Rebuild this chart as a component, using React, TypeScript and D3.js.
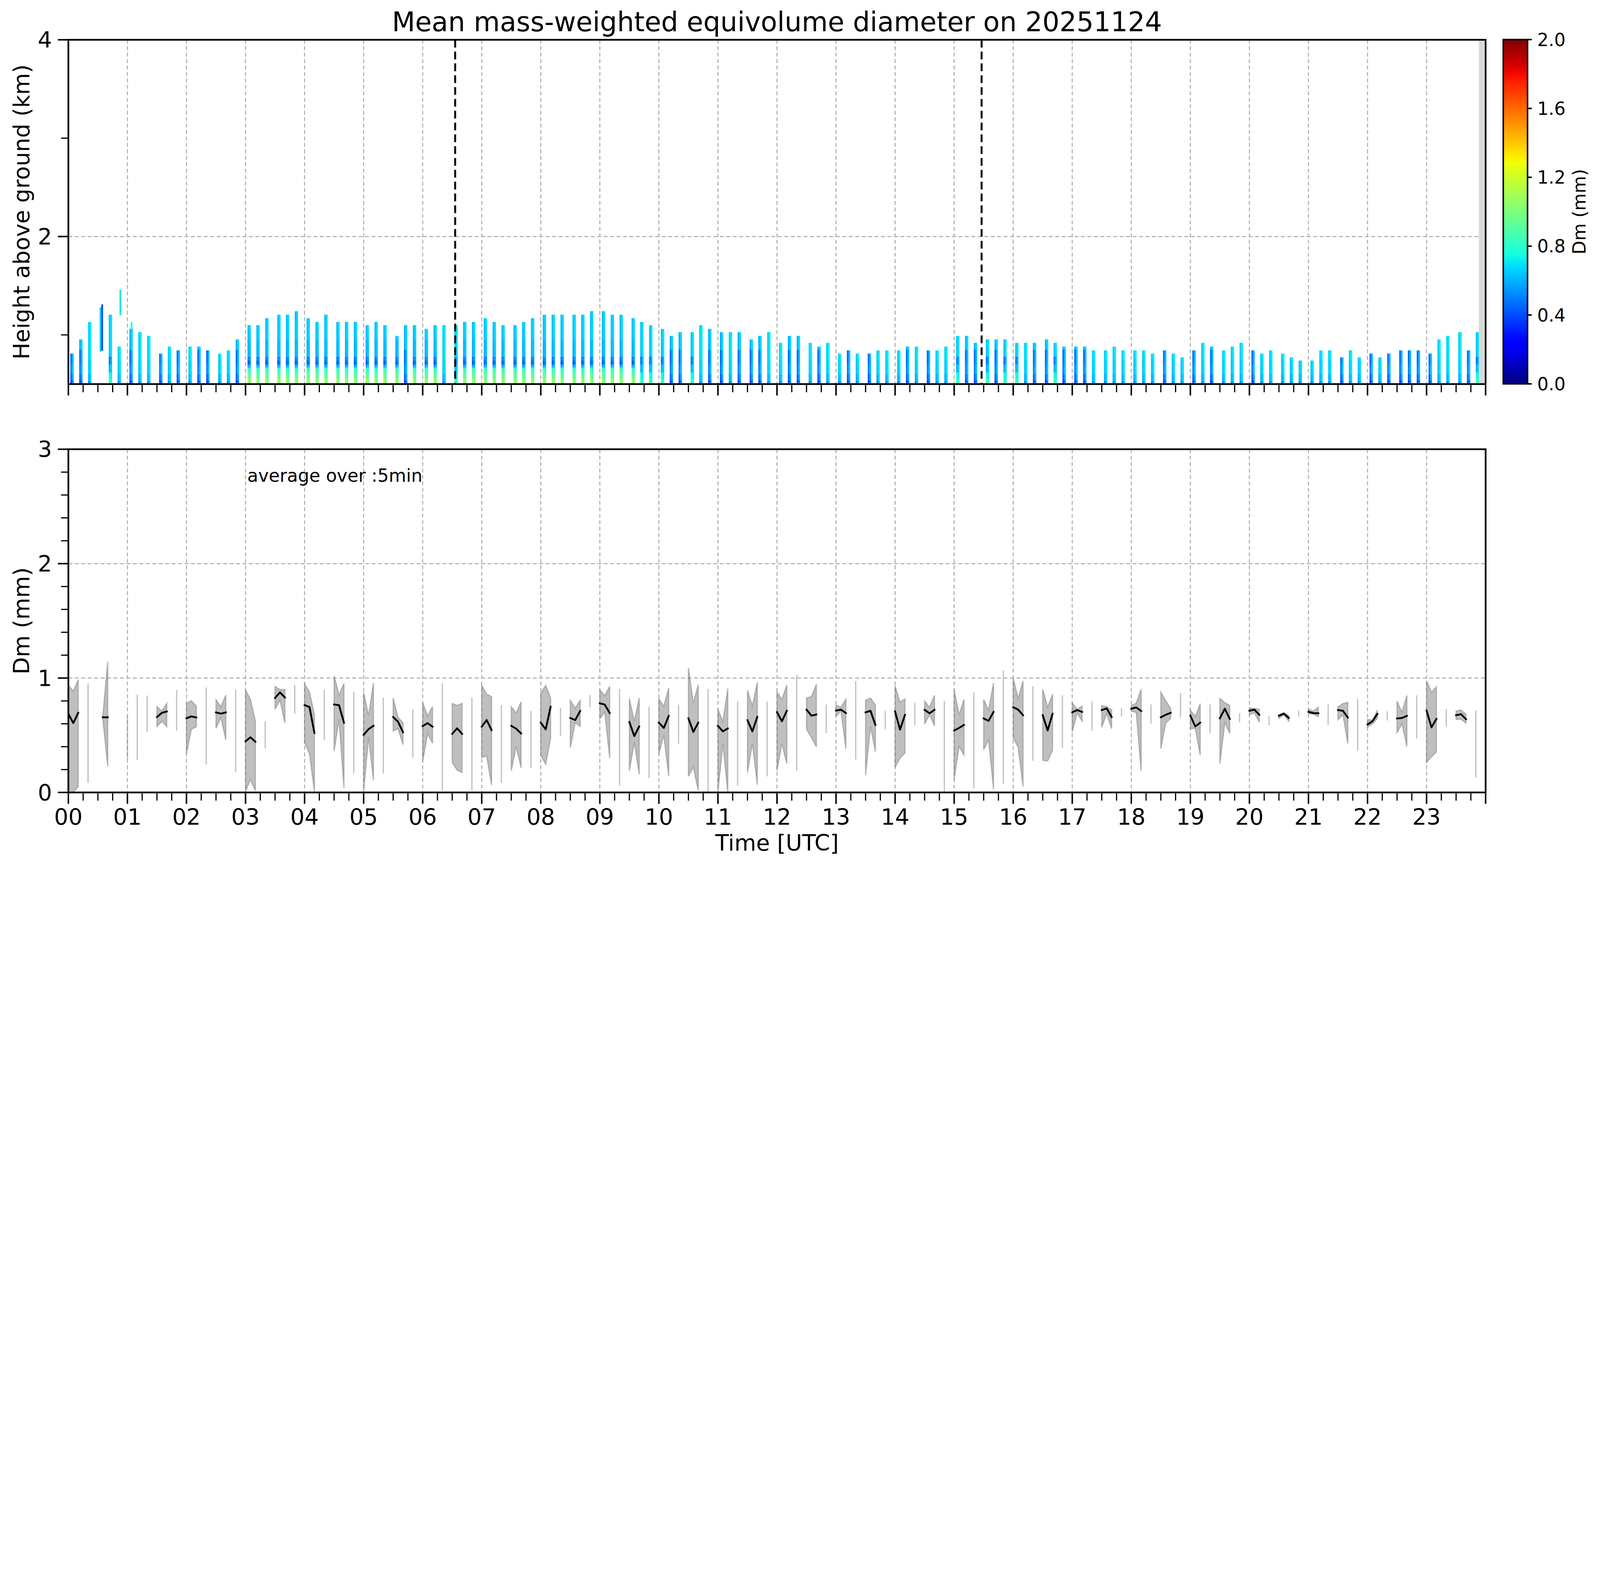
import React from 'react';
import * as d3 from 'd3';

const W = 7442;
const H = 4031;
const FONT = 'DejaVu Sans, Verdana, sans-serif';

// ---------- top panel: profile columns (Dm, mm) ----------
// scan start minutes inside each hour, and scan duration
const scanSlotMin = [2, 11, 20, 32.2, 41, 50];
const scanDurMin = 3.3;

// column tops (km) per hour, one value per scan slot (0 = no regular column)
const colTops: number[][] = [
  [0.81, 0.954, 1.132, 0, 1.205, 0.881],
  [1.061, 1.028, 0.99, 0.81, 0.881, 0.843],
  [0.881, 0.881, 0.843, 0.81, 0.843, 0.954],
  [1.099, 1.099, 1.17, 1.205, 1.205, 1.241],
  [1.17, 1.132, 1.205, 1.132, 1.132, 1.132],
  [1.099, 1.132, 1.099, 0.99, 1.099, 1.099],
  [1.061, 1.099, 1.099, 1.099, 1.132, 1.132],
  [1.17, 1.132, 1.099, 1.099, 1.132, 1.17],
  [1.205, 1.205, 1.205, 1.205, 1.205, 1.241],
  [1.241, 1.205, 1.205, 1.17, 1.132, 1.099],
  [1.061, 0.99, 1.028, 1.028, 1.099, 1.061],
  [1.028, 1.028, 1.028, 0.954, 0.99, 1.028],
  [0.919, 0.99, 0.99, 0.919, 0.881, 0.919],
  [0.81, 0.843, 0.81, 0.81, 0.843, 0.843],
  [0.843, 0.881, 0.881, 0.843, 0.843, 0.881],
  [0.99, 0.99, 0.919, 0.954, 0.954, 0.954],
  [0.919, 0.919, 0.919, 0.954, 0.919, 0.881],
  [0.881, 0.881, 0.843, 0.843, 0.881, 0.843],
  [0.843, 0.843, 0.81, 0.843, 0.81, 0.772],
  [0.843, 0.919, 0.881, 0.843, 0.881, 0.919],
  [0.843, 0.81, 0.843, 0.81, 0.772, 0.739],
  [0.739, 0.843, 0.843, 0.772, 0.843, 0.772],
  [0.81, 0.772, 0.81, 0.843, 0.843, 0.843],
  [0.81, 0.954, 0.99, 1.028, 0.843, 1.028],
];

// profile type of each column (g: large drops near ground, b: bluish, c: cyan, m: mixed)
const colProfile = [
  'bbcbmc', 'bccbcb', 'cbbccb', 'gggggg', 'gggggg', 'ggggbg',
  'ggcmgg', 'gggggg', 'gggggg', 'ggggmm', 'mbbmcb', 'bcbbbc',
  'cbbcbc', 'cbcbcc', 'cbcbcc', 'mbbmbm', 'mcbbmb', 'bbcccc',
  'cccbcc', 'bcbccc', 'bccccc', 'cccbcc', 'bcbbbb', 'bcccbm',
];

// bands: [upper height km, Dm first half, Dm second half]
const profileBands: Record<string, number[][]> = {
  g: [[0.555, 1.1, 1.0], [0.63, 0.95, 0.9], [0.67, 0.82, 0.78], [0.7, 0.58, 0.62], [0.74, 0.42, 0.5], [0.78, 0.5, 0.56], [0.95, 0.6, 0.64], [9, 0.63, 0.68]],
  c: [[0.53, 0.5, 0.6], [0.6, 0.6, 0.66], [0.75, 0.64, 0.7], [9, 0.66, 0.72]],
  b: [[0.54, 0.38, 0.5], [0.6, 0.44, 0.58], [0.7, 0.5, 0.64], [0.85, 0.46, 0.62], [9, 0.6, 0.68]],
  m: [[0.55, 0.85, 0.8], [0.62, 0.78, 0.72], [0.7, 0.6, 0.66], [0.78, 0.48, 0.6], [9, 0.64, 0.7]],
};

// detached echoes: [start h, end h, bottom km, top km, Dm]
const floatCells = [
  [0.53, 0.557, 0.83, 1.28, 0.65],
  [0.557, 0.585, 0.84, 1.31, 0.4],
  [0.866, 0.893, 1.2, 1.46, 0.7],
  [1.056, 1.083, 1.06, 1.13, 0.75],
];

const eventHours = [6.55, 15.465];
const noDataFrom = 23.885;

// ---------- bottom panel: 5-min Dm at ground ----------
const dmTime = [
  '00:00', '00:05', '00:10', '00:20', '00:35', '00:40',
  '01:00', '01:10', '01:20', '01:30', '01:35', '01:40', '01:50',
  '02:00', '02:05', '02:10', '02:20', '02:30', '02:35', '02:40', '02:50',
  '03:00', '03:05', '03:10', '03:20', '03:30', '03:35', '03:40', '03:50',
  '04:00', '04:05', '04:10', '04:20', '04:30', '04:35', '04:40', '04:50',
  '05:00', '05:05', '05:10', '05:20', '05:30', '05:35', '05:40', '05:50',
  '06:00', '06:05', '06:10', '06:20', '06:30', '06:35', '06:40', '06:50',
  '07:00', '07:05', '07:10', '07:20', '07:30', '07:35', '07:40', '07:50',
  '08:00', '08:05', '08:10', '08:20', '08:30', '08:35', '08:40', '08:50',
  '09:00', '09:05', '09:10', '09:20', '09:30', '09:35', '09:40', '09:50',
  '10:00', '10:05', '10:10', '10:20', '10:30', '10:35', '10:40', '10:50',
  '11:00', '11:05', '11:10', '11:20', '11:30', '11:35', '11:40', '11:50',
  '12:00', '12:05', '12:10', '12:20', '12:30', '12:35', '12:40', '12:50',
  '13:00', '13:05', '13:10', '13:20', '13:30', '13:35', '13:40', '13:50',
  '14:00', '14:05', '14:10', '14:20', '14:30', '14:35', '14:40', '14:50',
  '15:00', '15:05', '15:10', '15:20', '15:30', '15:35', '15:40', '15:50',
  '16:00', '16:05', '16:10', '16:20', '16:30', '16:35', '16:40', '16:50',
  '17:00', '17:05', '17:10', '17:20', '17:30', '17:35', '17:40', '17:50',
  '18:00', '18:05', '18:10', '18:20', '18:30', '18:35', '18:40', '18:50',
  '19:00', '19:05', '19:10', '19:20', '19:30', '19:35', '19:40', '19:50',
  '20:00', '20:05', '20:10', '20:20', '20:30', '20:35', '20:40', '20:50',
  '21:00', '21:05', '21:10', '21:20', '21:30', '21:35', '21:40', '21:50',
  '22:00', '22:05', '22:10', '22:20', '22:30', '22:35', '22:40', '22:50',
  '23:00', '23:05', '23:10', '23:20', '23:30', '23:35', '23:40', '23:50',
];
const dmMean = [
  0.688, 0.606, 0.696, 0.62, 0.657, 0.657,
  0.55, 0.6, 0.68, 0.659, 0.696, 0.708, 0.7,
  0.648, 0.665, 0.655, 0.6, 0.7, 0.689, 0.7, 0.6,
  0.447, 0.482, 0.443, 0.5, 0.826, 0.875, 0.83, 0.8,
  0.763, 0.747, 0.52, 0.7, 0.769, 0.763, 0.61, 0.6,
  0.504, 0.553, 0.583, 0.5, 0.659, 0.618, 0.526, 0.55,
  0.58, 0.606, 0.575, 0.5, 0.512, 0.561, 0.512, 0.5,
  0.575, 0.633, 0.545, 0.5, 0.582, 0.557, 0.516, 0.5,
  0.61, 0.551, 0.749, 0.62, 0.651, 0.633, 0.712, 0.8,
  0.779, 0.768, 0.694, 0.5, 0.616, 0.493, 0.577, 0.5,
  0.61, 0.564, 0.669, 0.6, 0.648, 0.529, 0.61, 0.5,
  0.582, 0.534, 0.559, 0.5, 0.632, 0.534, 0.661, 0.5,
  0.702, 0.622, 0.714, 0.6, 0.724, 0.671, 0.681, 0.65,
  0.716, 0.724, 0.694, 0.6, 0.7, 0.714, 0.59, 0.65,
  0.708, 0.549, 0.678, 0.7, 0.722, 0.692, 0.722, 0.5,
  0.541, 0.564, 0.59, 0.5, 0.647, 0.626, 0.704, 0.6,
  0.745, 0.724, 0.675, 0.6, 0.675, 0.542, 0.688, 0.6,
  0.7, 0.72, 0.704, 0.67, 0.72, 0.735, 0.659, 0.7,
  0.732, 0.743, 0.712, 0.68, 0.657, 0.679, 0.696, 0.75,
  0.671, 0.577, 0.61, 0.64, 0.648, 0.732, 0.643, 0.65,
  0.714, 0.724, 0.679, 0.63, 0.67, 0.689, 0.651, 0.69,
  0.705, 0.694, 0.692, 0.68, 0.72, 0.714, 0.655, 0.6,
  0.594, 0.622, 0.686, 0.67, 0.647, 0.651, 0.67, 0.65,
  0.716, 0.569, 0.643, 0.65, 0.675, 0.684, 0.641, 0.5,
];
const dmMin = [
  0.0, 0.005, 0.05, 0.084, 0.64, 0.227,
  0.29, 0.284, 0.531, 0.575, 0.622, 0.575, 0.539,
  0.337, 0.553, 0.573, 0.243, 0.561, 0.657, 0.458, 0.178,
  0.007, 0.113, 0.015, 0.386, 0.728, 0.806, 0.606, 0.688,
  0.435, 0.337, 0.007, 0.459, 0.361, 0.639, 0.038, 0.166,
  0.007, 0.48, 0.108, 0.166, 0.537, 0.557, 0.418, 0.304,
  0.272, 0.512, 0.431, 0.019, 0.263, 0.194, 0.174, 0.019,
  0.304, 0.319, 0.064, 0.084, 0.19, 0.402, 0.215, 0.215,
  0.325, 0.247, 0.471, 0.492, 0.39, 0.61, 0.577, 0.745,
  0.643, 0.704, 0.3, 0.06, 0.19, 0.439, 0.157, 0.125,
  0.337, 0.5, 0.141, 0.427, 0.141, 0.221, 0.015, 0.0,
  0.0, 0.427, 0.0, 0.06, 0.174, 0.427, 0.068, 0.141,
  0.19, 0.427, 0.251, 0.19, 0.553, 0.48, 0.398, 0.52,
  0.667, 0.712, 0.382, 0.288, 0.149, 0.577, 0.357, 0.553,
  0.219, 0.3, 0.345, 0.585, 0.598, 0.679, 0.582, 0.0,
  0.113, 0.402, 0.325, 0.035, 0.374, 0.459, 0.027, 0.076,
  0.48, 0.394, 0.051, 0.276, 0.28, 0.276, 0.369, 0.392,
  0.529, 0.696, 0.622, 0.539, 0.569, 0.69, 0.557, 0.663,
  0.71, 0.7, 0.186, 0.602, 0.382, 0.606, 0.647, 0.657,
  0.557, 0.561, 0.325, 0.516, 0.251, 0.61, 0.516, 0.614,
  0.679, 0.696, 0.614, 0.59, 0.647, 0.679, 0.622, 0.663,
  0.688, 0.684, 0.663, 0.59, 0.635, 0.679, 0.427, 0.365,
  0.573, 0.598, 0.647, 0.629, 0.524, 0.598, 0.402, 0.471,
  0.263, 0.312, 0.353, 0.575, 0.639, 0.639, 0.606, 0.129,
];
const dmMax = [
  0.936, 0.887, 0.985, 0.953, 0.67, 1.146,
  0.67, 0.855, 0.847, 0.751, 0.712, 0.779, 0.896,
  0.779, 0.802, 0.754, 0.918, 0.81, 0.749, 0.851, 0.896,
  0.896, 0.814, 0.626, 0.622, 0.927, 0.9, 0.9, 0.94,
  0.949, 0.879, 0.68, 0.896, 1.02, 0.851, 0.953, 0.882,
  0.875, 0.671, 0.958, 0.83, 0.826, 0.655, 0.61, 0.727,
  0.785, 0.67, 0.751, 0.953, 0.777, 0.761, 0.779, 0.83,
  0.936, 0.859, 0.838, 0.763, 0.749, 0.696, 0.792, 0.712,
  0.867, 0.936, 0.826, 0.741, 0.806, 0.737, 0.806, 0.852,
  0.896, 0.847, 0.928, 0.904, 0.822, 0.622, 0.826, 0.751,
  0.82, 0.753, 0.914, 0.768, 1.089, 0.781, 0.942, 0.904,
  0.728, 0.618, 0.909, 0.794, 0.892, 0.757, 0.963, 0.794,
  0.879, 0.814, 0.94, 1.029, 0.826, 0.838, 0.945, 0.768,
  0.763, 0.745, 0.814, 0.973, 0.806, 0.825, 0.765, 0.716,
  0.932, 0.79, 0.818, 0.785, 0.798, 0.745, 0.849, 0.8,
  0.9, 0.679, 0.814, 0.874, 0.812, 0.72, 0.957, 1.067,
  1.0, 0.822, 0.975, 0.928, 0.901, 0.745, 0.859, 0.849,
  0.781, 0.728, 0.754, 0.795, 0.759, 0.75, 0.72, 0.735,
  0.76, 0.78, 0.904, 0.769, 0.877, 0.802, 0.732, 0.869,
  0.72, 0.663, 0.777, 0.769, 0.822, 0.785, 0.761, 0.692,
  0.737, 0.735, 0.728, 0.667, 0.68, 0.697, 0.671, 0.716,
  0.728, 0.712, 0.745, 0.769, 0.749, 0.777, 0.787, 0.818,
  0.639, 0.631, 0.719, 0.71, 0.798, 0.7, 0.847, 0.849,
  0.977, 0.875, 0.924, 0.728, 0.712, 0.72, 0.684, 0.719,
];

// ---------- ticks ----------
const hourLabels = ['00', '01', '02', '03', '04', '05', '06', '07', '08', '09', '10', '11',
  '12', '13', '14', '15', '16', '17', '18', '19', '20', '21', '22', '23'];
const topMajor = [2, 4];
const topMinor = [1, 3];
const botMajor = [0, 1, 2, 3];
const cbTicks = [0, 0.4, 0.8, 1.2, 1.6, 2.0];

// matplotlib "jet"
const jr = d3.scaleLinear([0, 0.35, 0.66, 0.89, 1], [0, 0, 1, 1, 0.5]).clamp(true);
const jg = d3.scaleLinear([0, 0.125, 0.375, 0.64, 0.91, 1], [0, 0, 1, 1, 0, 0]).clamp(true);
const jb = d3.scaleLinear([0, 0.11, 0.34, 0.65, 1], [0.5, 1, 1, 0, 0]).clamp(true);
const jet = (f: number) => d3.rgb(jr(f) * 255, jg(f) * 255, jb(f) * 255).formatHex();

const toHour = (s: string) => +s.slice(0, 2) + +s.slice(3, 5) / 60;

export default function App() {
  const left = 318, right = 6910;
  const x = d3.scaleLinear([0, 24], [left, right]);
  const yT = d3.scaleLinear([0.5, 4], [1786, 185]);
  const yB = d3.scaleLinear([0, 3], [3685, 2089]);
  const dmFrac = d3.scaleLinear([0, 2], [0, 1]).clamp(true);
  const cbY = d3.scaleLinear([0, 2], [1785, 184]);
  const cbL = 6992, cbR = 7105;

  // column cells
  const cells: { x0: number; x1: number; y0: number; y1: number; dm: number }[] = [];
  colTops.forEach((tops, h) => tops.forEach((top, s) => {
    if (!top) return;
    const t0 = h + scanSlotMin[s] / 60;
    const tm = t0 + scanDurMin / 120;
    const t1 = t0 + scanDurMin / 60;
    let lo = 0.5;
    for (const band of profileBands[colProfile[h][s]]) {
      const hi = Math.min(band[0], top);
      if (hi > lo) {
        cells.push({ x0: t0, x1: tm, y0: lo, y1: hi, dm: band[1] });
        cells.push({ x0: tm, x1: t1, y0: lo, y1: hi, dm: band[2] });
      }
      lo = Math.max(lo, band[0]);
      if (lo >= top) break;
    }
  }));
  floatCells.forEach(([a, b, lo, hi, dm]) => cells.push({ x0: a, x1: b, y0: lo, y1: hi, dm }));

  // bottom panel segments (consecutive 5-min samples)
  const pts = dmTime.map((t, i) => ({ t: toHour(t), m: dmMean[i], lo: dmMin[i], hi: dmMax[i] }));
  const segs: typeof pts[] = [];
  pts.forEach((p, i) => {
    if (i > 0 && Math.abs(p.t - pts[i - 1].t - 5 / 60) < 1e-6) segs[segs.length - 1].push(p);
    else segs.push([p]);
  });
  const lineGen = d3.line<[number, number]>();
  const bandPath = (sg: typeof pts) => {
    const up = sg.map(p => [x(p.t), yB(p.hi)] as [number, number]);
    const dn = sg.slice().reverse().map(p => [x(p.t), yB(p.lo)] as [number, number]);
    return lineGen([...up, ...dn]) + 'Z';
  };

  const hours = d3.range(0, 25);
  const quarter = d3.range(0, 24.001, 0.25).filter(v => Math.abs(v - Math.round(v)) > 1e-6);
  const botMinor = d3.range(0, 3.001, 0.2).filter(v => Math.abs(v - Math.round(v)) > 1e-6);
  const gridStyle = { stroke: '#b0b0b0', strokeWidth: 5, strokeDasharray: '18,12' };

  const xTicks = (yb: number) => (
    <g stroke="#000">
      {hours.map(h => <line key={'M' + h} x1={x(h)} x2={x(h)} y1={yb} y2={yb + 49} strokeWidth={7} />)}
      {quarter.map(h => <line key={'m' + h} x1={x(h)} x2={x(h)} y1={yb} y2={yb + 34} strokeWidth={5.5} />)}
    </g>
  );

  const stops = d3.range(0, 1.0001, 0.02);

  return (
    <svg viewBox={`0 0 ${W} ${H}`} preserveAspectRatio="xMinYMin meet"
      style={{ position: 'absolute', left: 0, top: 0, width: '100vw', height: '100vh', background: '#fff' }}
      fontFamily={FONT}>
      <defs>
        <linearGradient id="jetg" x1="0" y1="1" x2="0" y2="0">
          {stops.map(s => <stop key={s} offset={s} stopColor={jet(s)} />)}
        </linearGradient>
        <clipPath id="clipT"><rect x={left} y={185} width={right - left} height={1786 - 185} /></clipPath>
        <clipPath id="clipB"><rect x={left} y={2089} width={right - left} height={3685 - 2089} /></clipPath>
      </defs>
      <rect width={W} height={H} fill="#fff" />

      <text x={(left + right) / 2} y={145} fontSize={125} textAnchor="middle">
        Mean mass-weighted equivolume diameter on 20251124
      </text>

      {/* ---------- top panel ---------- */}
      <g>
        {hours.slice(1, 24).map(h => <line key={h} x1={x(h)} x2={x(h)} y1={185} y2={1786} {...gridStyle} />)}
        {topMajor.filter(v => v < 4).map(v => <line key={v} x1={left} x2={right} y1={yT(v)} y2={yT(v)} {...gridStyle} />)}
        <g clipPath="url(#clipT)">
          {cells.map((c, i) => (
            <rect key={i} x={x(c.x0)} y={yT(c.y1)} width={x(c.x1) - x(c.x0) + 0.6}
              height={yT(c.y0) - yT(c.y1) + 0.6} fill={jet(dmFrac(c.dm))} />
          ))}
          <rect x={x(noDataFrom)} y={185} width={x(24) - x(noDataFrom)} height={1786 - 185} fill="#d9d9d9" />
        </g>
        {eventHours.map(h => (
          <line key={h} x1={x(h)} x2={x(h)} y1={185} y2={1786} stroke="#000" strokeWidth={9} strokeDasharray="36,19" />
        ))}
        <rect x={left} y={185} width={right - left} height={1786 - 185} fill="none" stroke="#000" strokeWidth={8} />
        {xTicks(1790)}
        <g stroke="#000">
          {topMajor.map(v => <line key={v} x1={left - 49} x2={left} y1={yT(v)} y2={yT(v)} strokeWidth={7} />)}
          {topMinor.map(v => <line key={v} x1={left - 34} x2={left} y1={yT(v)} y2={yT(v)} strokeWidth={5.5} />)}
        </g>
        {topMajor.map(v => (
          <text key={v} x={242} y={yT(v)} dy="0.36em" fontSize={104} textAnchor="end">{v}</text>
        ))}
        <text transform={`translate(136,${(185 + 1786) / 2}) rotate(-90)`} fontSize={104} textAnchor="middle">
          Height above ground (km)
        </text>
      </g>

      {/* ---------- colorbar ---------- */}
      <g>
        <rect x={cbL} y={cbY(2)} width={cbR - cbL} height={cbY(0) - cbY(2)} fill="url(#jetg)" stroke="#000" strokeWidth={7} />
        {cbTicks.map(v => (
          <g key={v}>
            <line x1={cbR} x2={cbR + 20} y1={cbY(v)} y2={cbY(v)} stroke="#000" strokeWidth={7} />
            <text x={7150} y={cbY(v)} dy="0.36em" fontSize={83}>{v.toFixed(1)}</text>
          </g>
        ))}
        <text transform={`translate(7375,${(184 + 1785) / 2}) rotate(-90)`} fontSize={83} textAnchor="middle">
          Dm (mm)
        </text>
      </g>

      {/* ---------- bottom panel ---------- */}
      <g>
        {hours.slice(1, 24).map(h => <line key={h} x1={x(h)} x2={x(h)} y1={2089} y2={3685} {...gridStyle} />)}
        {[1, 2].map(v => <line key={v} x1={left} x2={right} y1={yB(v)} y2={yB(v)} {...gridStyle} />)}
        <g clipPath="url(#clipB)">
          {segs.map((sg, i) => (
            <path key={'f' + i} d={bandPath(sg)} fill="#808080" fillOpacity={0.5}
              stroke="#808080" strokeOpacity={0.5} strokeWidth={5.5} strokeLinejoin="miter" />
          ))}
          {segs.filter(sg => sg.length > 1).map((sg, i) => (
            <path key={'l' + i} d={lineGen(sg.map(p => [x(p.t), yB(p.m)] as [number, number])) || ''}
              fill="none" stroke="#000" strokeWidth={8.5} strokeLinejoin="round" strokeLinecap="square" />
          ))}
        </g>
        <text x={1150} y={2240} fontSize={83}>average over :5min</text>
        <rect x={left} y={2089} width={right - left} height={3685 - 2089} fill="none" stroke="#000" strokeWidth={8} />
        {xTicks(3689)}
        <g stroke="#000">
          {botMajor.map(v => <line key={v} x1={left - 49} x2={left} y1={yB(v)} y2={yB(v)} strokeWidth={7} />)}
          {botMinor.map(v => <line key={v} x1={left - 34} x2={left} y1={yB(v)} y2={yB(v)} strokeWidth={5.5} />)}
        </g>
        {botMajor.map(v => (
          <text key={v} x={242} y={yB(v)} dy="0.36em" fontSize={104} textAnchor="end">{v}</text>
        ))}
        {hourLabels.map((lab, i) => (
          <text key={lab} x={x(i)} y={3836} fontSize={104} textAnchor="middle">{lab}</text>
        ))}
        <text x={(left + right) / 2} y={3955} fontSize={104} textAnchor="middle">Time [UTC]</text>
        <text transform={`translate(136,${(2089 + 3685) / 2}) rotate(-90)`} fontSize={104} textAnchor="middle">
          Dm (mm)
        </text>
      </g>
    </svg>
  );
}
